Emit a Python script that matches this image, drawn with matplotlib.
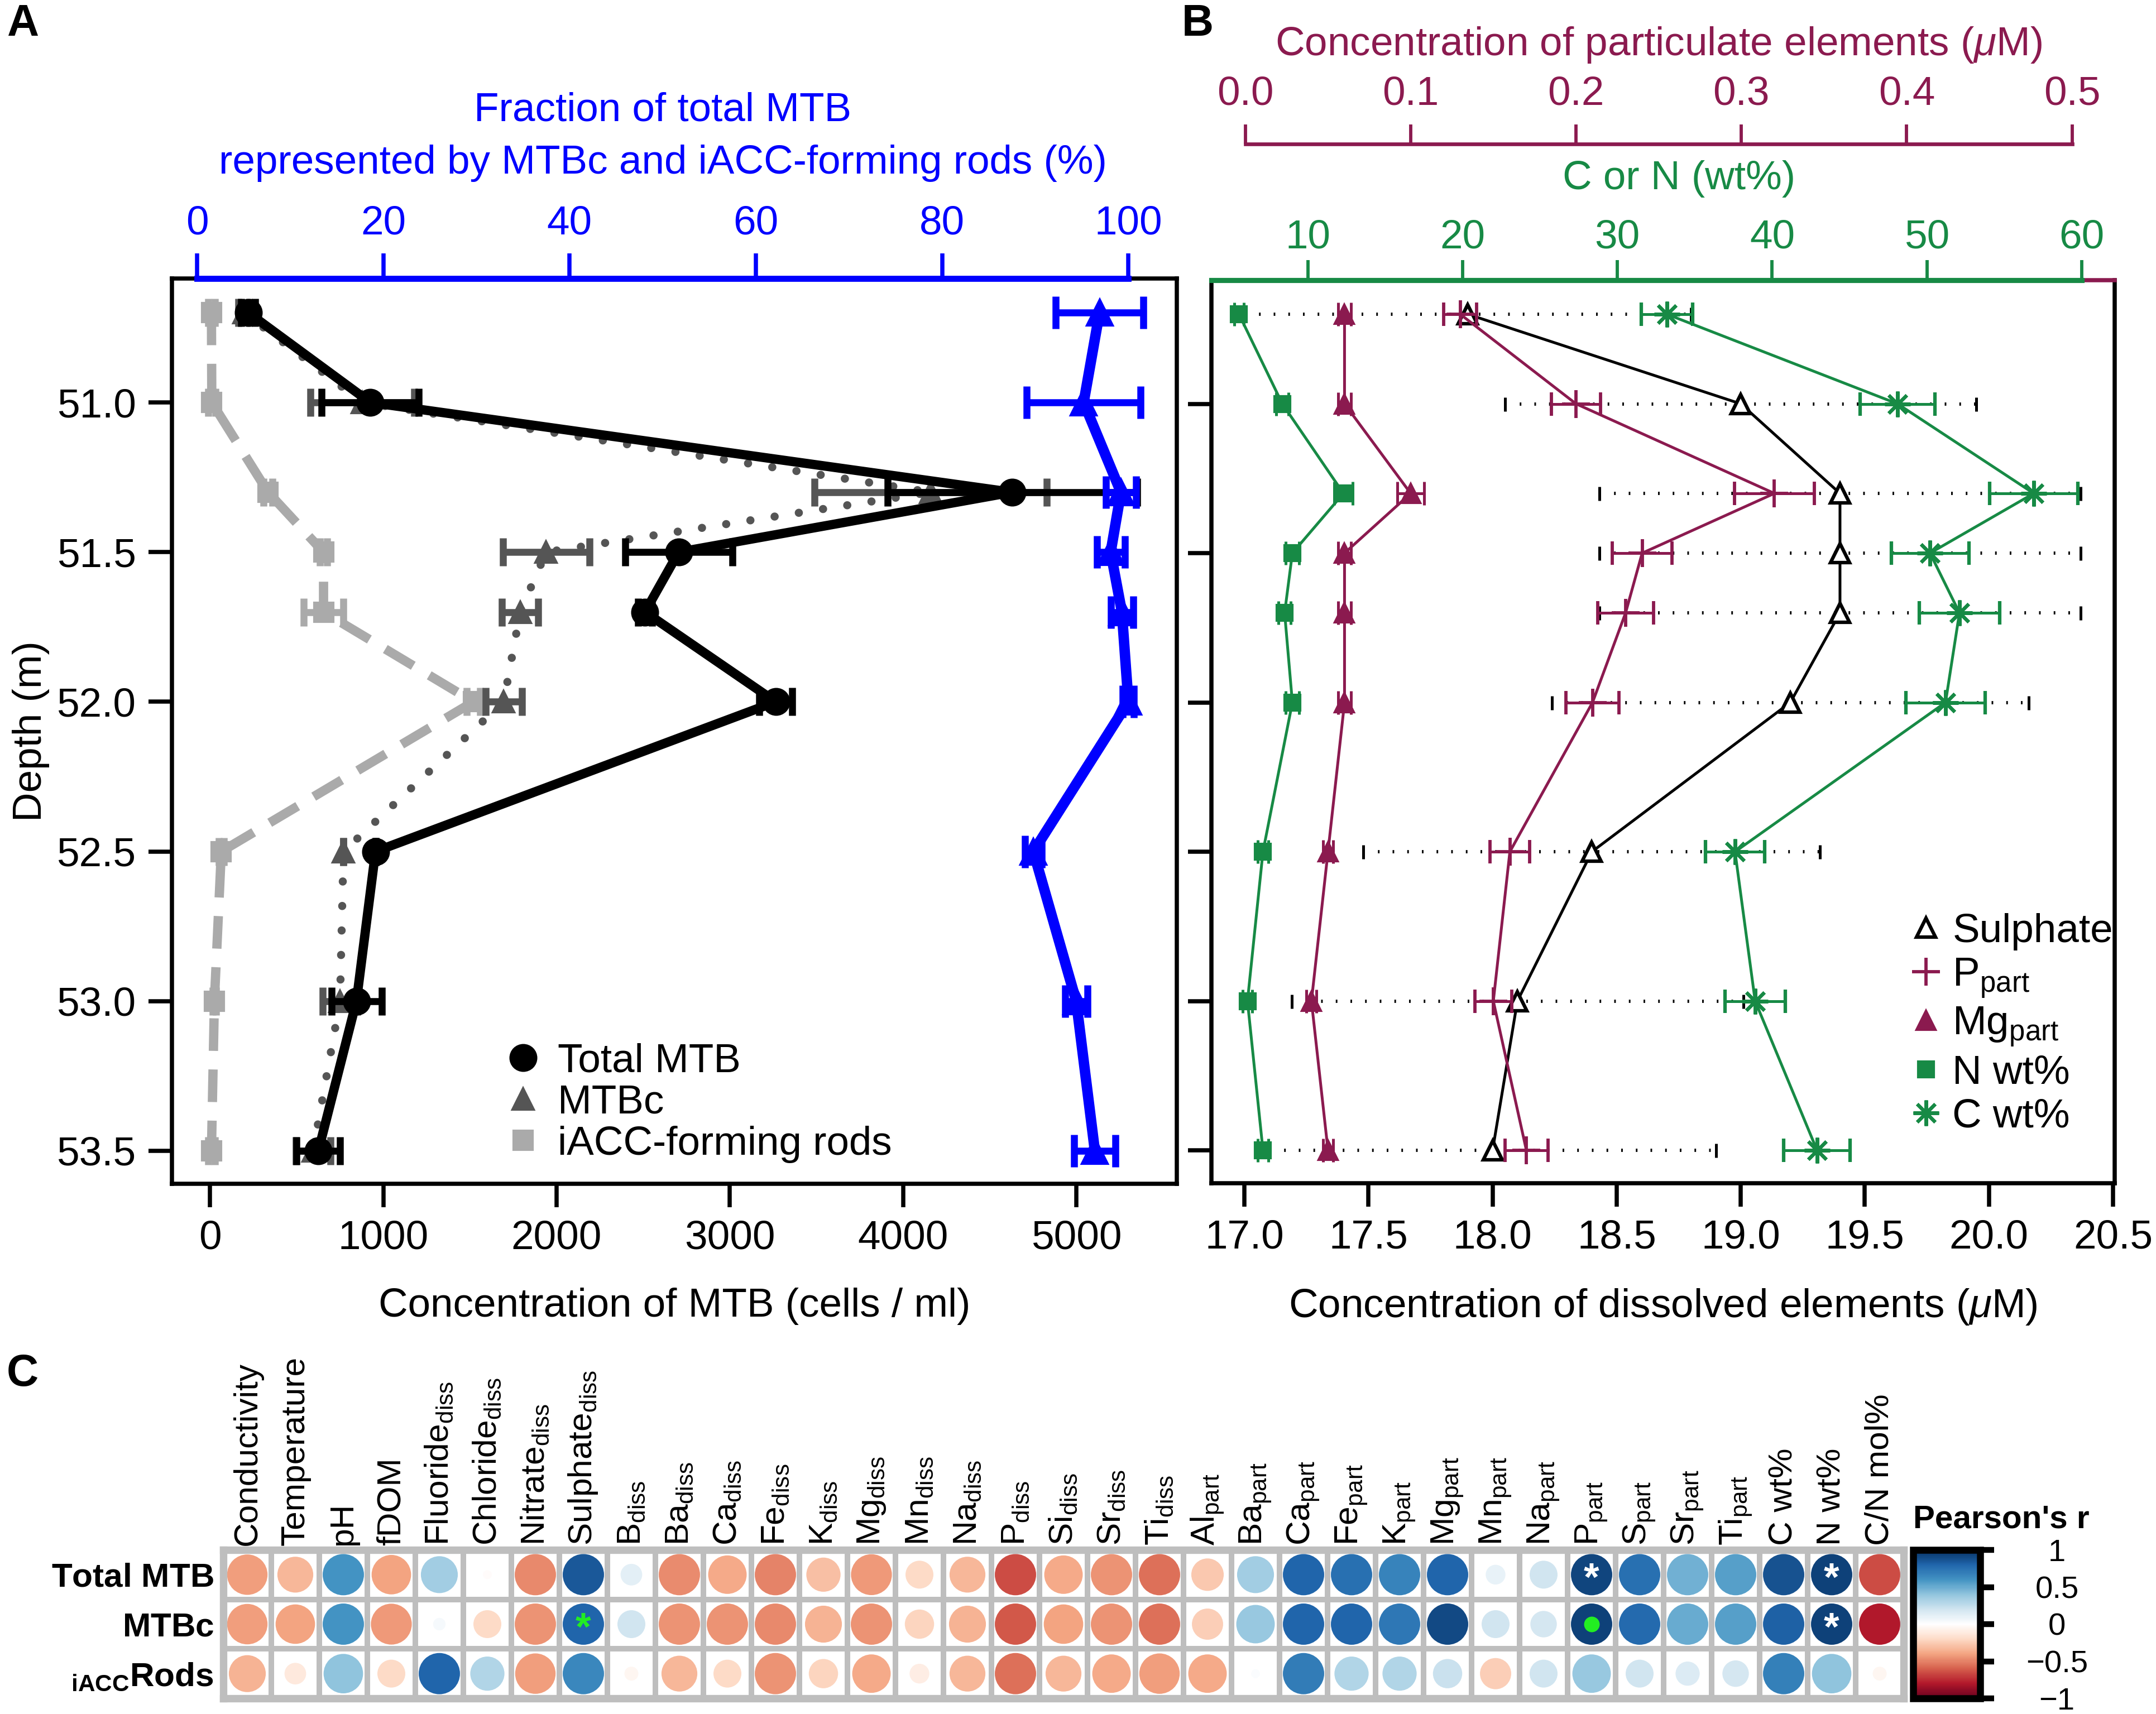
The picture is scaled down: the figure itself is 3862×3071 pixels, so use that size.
import matplotlib
matplotlib.use("Agg")
import matplotlib.pyplot as plt
import numpy as np
from matplotlib.colors import LinearSegmentedColormap
from matplotlib.lines import Line2D

plt.rcParams['font.family'] = ['Liberation Sans', 'DejaVu Sans']
plt.rcParams['mathtext.fontset'] = 'custom'
plt.rcParams['mathtext.rm'] = 'Liberation Sans'
plt.rcParams['mathtext.it'] = 'Liberation Sans:italic'
plt.rcParams['mathtext.bf'] = 'Liberation Sans:bold'

# sampled depths (m)
depth = [50.7, 51.0, 51.3, 51.5, 51.7, 52.0, 52.5, 53.0, 53.5]

# panel A: MTB concentrations (cells / ml)
total_mtb = [220, 925, 4630, 2705, 2510, 3265, 955, 845, 625]
total_mtb_err = [40, 280, 720, 310, 40, 95, 0, 145, 125]
mtbc = [195, 880, 4160, 1940, 1790, 1695, 770, 750, 595]
mtbc_err = [30, 300, 670, 250, 105, 105, 0, 100, 100]
iacc_rods = [8, 10, 335, 655, 655, 1520, 65, 25, 8]
iacc_err = [20, 20, 25, 20, 115, 40, 15, 10, 20]
# fraction of total MTB represented by MTBc and iACC rods (%)
frac_pct = [96.9, 95.2, 99.2, 98.1, 99.3, 100.0, 89.8, 94.4, 96.4]
frac_err = [4.7, 6.1, 1.6, 1.5, 1.2, 0.6, 0.9, 1.2, 2.2]

# panel B: dissolved sulphate (uM), particulate P and Mg (uM), C and N (wt%)
sulphate = [17.9, 19.0, 19.4, 19.4, 19.4, 19.2, 18.4, 18.1, 18.0]
sulphate_err = [0.90, 0.95, 0.97, 0.97, 0.97, 0.96, 0.92, 0.91, 0.90]
p_part = [0.13, 0.20, 0.32, 0.24, 0.23, 0.21, 0.16, 0.15, 0.17]
p_part_err = [0.010, 0.015, 0.024, 0.018, 0.017, 0.016, 0.012, 0.011, 0.013]
mg_part = [0.06, 0.06, 0.10, 0.06, 0.06, 0.06, 0.05, 0.04, 0.05]
mg_part_err = [0.004, 0.004, 0.008, 0.004, 0.004, 0.004, 0.003, 0.003, 0.003]
n_wt = [5.55, 8.35, 12.3, 9.0, 8.5, 9.0, 7.1, 6.1, 7.1]
n_wt_err = [0.3, 0.4, 0.6, 0.45, 0.4, 0.45, 0.35, 0.3, 0.35]
c_wt = [33.2, 48.1, 56.9, 50.2, 52.1, 51.2, 37.6, 38.9, 42.9]
c_wt_err = [1.65, 2.4, 2.85, 2.5, 2.6, 2.55, 1.9, 1.95, 2.15]

# panel C: Pearson correlations
corr_vars = ['Conductivity', 'Temperature', 'pH', 'fDOM',
             'Fluoride$_{\\mathrm{diss}}$', 'Chloride$_{\\mathrm{diss}}$',
             'Nitrate$_{\\mathrm{diss}}$', 'Sulphate$_{\\mathrm{diss}}$',
             'B$_{\\mathrm{diss}}$', 'Ba$_{\\mathrm{diss}}$', 'Ca$_{\\mathrm{diss}}$',
             'Fe$_{\\mathrm{diss}}$', 'K$_{\\mathrm{diss}}$', 'Mg$_{\\mathrm{diss}}$',
             'Mn$_{\\mathrm{diss}}$', 'Na$_{\\mathrm{diss}}$', 'P$_{\\mathrm{diss}}$',
             'Si$_{\\mathrm{diss}}$', 'Sr$_{\\mathrm{diss}}$', 'Ti$_{\\mathrm{diss}}$',
             'Al$_{\\mathrm{part}}$', 'Ba$_{\\mathrm{part}}$', 'Ca$_{\\mathrm{part}}$',
             'Fe$_{\\mathrm{part}}$', 'K$_{\\mathrm{part}}$', 'Mg$_{\\mathrm{part}}$',
             'Mn$_{\\mathrm{part}}$', 'Na$_{\\mathrm{part}}$', 'P$_{\\mathrm{part}}$',
             'S$_{\\mathrm{part}}$', 'Sr$_{\\mathrm{part}}$', 'Ti$_{\\mathrm{part}}$',
             'C wt%', 'N wt%', 'C/N mol%']
corr_groups = ['$\\mathbf{Total\\ MTB}$', '$\\mathbf{MTBc}$',
               '${}_{\\mathbf{iACC}}\\mathbf{Rods}$']
total_r = [-0.42, -0.33, 0.60, -0.40, 0.35, -0.02, -0.48, 0.85, 0.12, -0.47,
           -0.38, -0.50, -0.30, -0.43, -0.20, -0.33, -0.65, -0.38, -0.45, -0.55,
           -0.27, 0.35, 0.80, 0.75, 0.67, 0.80, 0.10, 0.20, 0.92, 0.75,
           0.48, 0.55, 0.87, 0.93, -0.65]
mtbc_r = [-0.42, -0.40, 0.60, -0.43, 0.04, -0.20, -0.45, 0.80, 0.20, -0.45,
          -0.45, -0.48, -0.35, -0.45, -0.22, -0.35, -0.62, -0.40, -0.45, -0.55,
          -0.25, 0.38, 0.80, 0.80, 0.72, 0.90, 0.20, 0.18, 0.93, 0.78,
          0.50, 0.55, 0.82, 0.93, -0.80]
rods_r = [-0.35, -0.12, 0.40, -0.20, 0.80, 0.30, -0.42, 0.65, -0.05, -0.33,
          -0.20, -0.45, -0.22, -0.38, -0.10, -0.33, -0.55, -0.33, -0.38, -0.42,
          -0.38, 0.02, 0.70, 0.30, 0.30, 0.22, -0.25, 0.20, 0.38, 0.20,
          0.15, 0.18, 0.68, 0.40, -0.05]
# significance marks (row, column)
sig_white_star = [(0, 28), (0, 33), (1, 33)]
sig_green_star = [(1, 7)]
sig_green_dot = [(1, 28)]

BLUE = '#0000FF'
PURPLE = '#8B1A4F'
GREEN = '#178A45'
DARK = '#555555'
LIGHT = '#AAAAAA'
FS = 17.5

W, H = 3862, 3071
fig = plt.figure(figsize=(W / 300, H / 300), dpi=300)


def box(x0, y0, x1, y1):
    return [x0 / W, 1 - y1 / H, (x1 - x0) / W, (y1 - y0) / H]


def style_box(ax):
    for s in ax.spines.values():
        s.set_linewidth(1.8)
    ax.tick_params(labelsize=FS, length=10, width=1.8, pad=5.5)


# ---------------- panel A ----------------
axA = fig.add_axes(box(308, 499, 2108, 2121))
style_box(axA)
axA.set_xlim(-220, 5580)
axA.set_ylim(53.61, 50.586)
axA.set_xticks([0, 1000, 2000, 3000, 4000, 5000])
axA.set_yticks([51.0, 51.5, 52.0, 52.5, 53.0, 53.5])
axA.set_yticklabels(['%.1f' % d for d in [51.0, 51.5, 52.0, 52.5, 53.0, 53.5]])
axA.set_xlabel('Concentration of MTB (cells / ml)', fontsize=FS, labelpad=13)
axA.set_ylabel('Depth (m)', fontsize=FS, labelpad=3)

axA.errorbar(iacc_rods, depth, xerr=iacc_err, color=LIGHT, marker='s', ms=8,
             lw=4, ls=(0, (3.5, 2)), elinewidth=3, capsize=6, capthick=3, zorder=2)
axA.errorbar(mtbc, depth, xerr=mtbc_err, color=DARK, marker='^', ms=9,
             lw=3.5, ls=(0, (0.01, 3)), dash_capstyle='round', elinewidth=3,
             capsize=6, capthick=3, zorder=3)
axA.errorbar(total_mtb, depth, xerr=total_mtb_err, color='black', marker='o', ms=11,
             lw=4, elinewidth=3, capsize=6, capthick=3, zorder=4)

leg_h = [Line2D([], [], ls='none', marker='o', ms=11, color='black'),
         Line2D([], [], ls='none', marker='^', ms=9, color=DARK),
         Line2D([], [], ls='none', marker='s', ms=8, color=LIGHT)]
axA.legend(leg_h, ['Total MTB', 'MTBc', 'iACC-forming rods'], loc='lower left',
           bbox_to_anchor=(0.329, 0.023), frameon=False, fontsize=FS, borderpad=0,
           borderaxespad=0, handlelength=1.0, handletextpad=0.35, labelspacing=0.1)

axA2 = axA.twiny()
axA2.set_xlim(-2.7, 105.2)
axA2.set_xticks([0, 20, 40, 60, 80, 100])
for s in ['bottom', 'left', 'right']:
    axA2.spines[s].set_visible(False)
axA2.spines['top'].set_color(BLUE)
axA2.spines['top'].set_linewidth(2.6)
axA2.spines['top'].set_bounds(0, 100)
axA2.tick_params(axis='x', colors=BLUE, labelsize=FS, length=10.8, width=1.8, pad=4.6)
axA2.errorbar(frac_pct, depth, xerr=frac_err, color=BLUE, marker='^', ms=11,
              lw=4.5, elinewidth=3, capsize=7, capthick=3, zorder=4)
cxA = (308 + 1800 * (2.7 + 50) / 107.9) / W
fig.text(cxA, 1 - 198 / H, 'Fraction of total MTB', color=BLUE, fontsize=FS,
         ha='center', va='center')
fig.text(cxA, 1 - 292 / H, 'represented by MTBc and iACC-forming rods (%)',
         color=BLUE, fontsize=FS, ha='center', va='center')

# ---------------- panel B ----------------
axB = fig.add_axes(box(2170, 502, 3788, 2120))
style_box(axB)
axB.spines['top'].set_color(PURPLE)
axB.set_xlim(16.867, 20.507)
axB.set_ylim(53.61, 50.586)
xt = [17.0, 17.5, 18.0, 18.5, 19.0, 19.5, 20.0, 20.5]
axB.set_xticks(xt)
axB.set_xticklabels(['%.1f' % v for v in xt])
axB.set_yticks([51.0, 51.5, 52.0, 52.5, 53.0, 53.5])
axB.set_yticklabels([])
axB.set_xlabel('Concentration of dissolved elements ($\\mathit{\\mu}$M)',
               fontsize=FS, labelpad=13)

eb = axB.errorbar(sulphate, depth, xerr=sulphate_err, color='black', ls='none',
                  elinewidth=1.4, capsize=3, capthick=1.2, zorder=1)
eb[2][0].set_linestyle((0, (0.5, 4)))
axB.plot(sulphate, depth, color='black', lw=1.2, marker='^', ms=8,
         mfc='white', mec='black', mew=1.5, zorder=5)

axG = axB.twiny()
axG.set_xlim(3.77, 62.13)
axG.set_xticks([10, 20, 30, 40, 50, 60])
for s in ['bottom', 'left', 'right']:
    axG.spines[s].set_visible(False)
axG.spines['top'].set_color(GREEN)
axG.spines['top'].set_linewidth(2.2)
axG.spines['top'].set_bounds(3.77, 60)
axG.tick_params(axis='x', colors=GREEN, labelsize=FS, length=8.6, width=1.4, pad=1.7)
axG.errorbar(n_wt, depth, xerr=n_wt_err, color=GREEN, marker='s', ms=6.5,
             lw=1.2, elinewidth=1.2, capsize=5, capthick=1.2, zorder=3)
axG.errorbar(c_wt, depth, xerr=c_wt_err, color=GREEN, marker=(8, 2, 0), ms=11,
             mew=1.5, lw=1.2, elinewidth=1.2, capsize=5, capthick=1.2, zorder=3)

axP = axB.twiny()
axP.set_xlim(-0.0205, 0.5258)
axP.set_xticks([0.0, 0.1, 0.2, 0.3, 0.4, 0.5])
axP.set_xticklabels(['0.0', '0.1', '0.2', '0.3', '0.4', '0.5'])
for s in ['bottom', 'left', 'right']:
    axP.spines[s].set_visible(False)
axP.spines['top'].set_position(('outward', 58.6))
axP.spines['top'].set_color(PURPLE)
axP.spines['top'].set_linewidth(1.6)
axP.spines['top'].set_bounds(0, 0.5)
axP.tick_params(axis='x', colors=PURPLE, labelsize=FS, length=8.4, width=1.4, pad=4.8)
axP.errorbar(mg_part, depth, xerr=mg_part_err, color=PURPLE, marker='^', ms=8,
             lw=1.2, elinewidth=1.2, capsize=5, capthick=1.2, zorder=3)
axP.errorbar(p_part, depth, xerr=p_part_err, color=PURPLE, marker='+', ms=12,
             mew=1.4, lw=1.2, elinewidth=1.2, capsize=5, capthick=1.2, zorder=3)

cxB = (2170 + 1618 * 0.4952) / W
fig.text(cxB, 1 - 80 / H, 'Concentration of particulate elements ($\\mathit{\\mu}$M)',
         color=PURPLE, fontsize=FS, ha='center', va='center')
fig.text(3008 / W, 1 - 320 / H, 'C or N (wt%)', color=GREEN, fontsize=FS,
         ha='center', va='center')

leg_hB = [Line2D([], [], ls='none', marker='^', ms=8, mfc='white', mec='black', mew=1.5),
          Line2D([], [], ls='none', marker='+', ms=12, mew=1.4, color=PURPLE),
          Line2D([], [], ls='none', marker='^', ms=8, color=PURPLE),
          Line2D([], [], ls='none', marker='s', ms=6.5, color=GREEN),
          Line2D([], [], ls='none', marker=(8, 2, 0), ms=11, mew=1.5, color=GREEN)]
axB.legend(leg_hB, ['Sulphate', 'P$_{\\mathrm{part}}$', 'Mg$_{\\mathrm{part}}$',
                    'N wt%', 'C wt%'], loc='lower left', bbox_to_anchor=(0.773, 0.053),
           frameon=False, fontsize=FS, borderpad=0, borderaxespad=0,
           handlelength=0.8, handletextpad=0.25, labelspacing=0.15)

# ---------------- panel C ----------------
axC = fig.add_axes(box(400, 2777, 3410, 3043))
corr = np.array([total_r, mtbc_r, rods_r])
ncol = len(corr_vars)
axC.set_xlim(-0.5, ncol - 0.5)
axC.set_ylim(len(corr_groups) - 0.5, -0.5)
for i in range(ncol + 1):
    axC.axvline(i - 0.5, color='#BEBEBE', lw=2.4, zorder=1)
for j in range(len(corr_groups) + 1):
    axC.axhline(j - 0.5, color='#BEBEBE', lw=2.4, zorder=1)
for s in axC.spines.values():
    s.set_color('#BEBEBE')
    s.set_linewidth(3.2)

cmap = LinearSegmentedColormap.from_list('corrRdBu', [
    '#67001F', '#B2182B', '#D6604D', '#F4A582', '#FDDBC7', '#FFFFFF',
    '#D1E5F0', '#92C5DE', '#4393C3', '#2166AC', '#053061'])
cell_pt = axC.get_position().width * fig.get_figwidth() * 72 / ncol
xx, yy = np.meshgrid(np.arange(ncol), np.arange(len(corr_groups)))
diam = np.minimum(1.3 * np.sqrt(np.abs(corr)), 0.86) * cell_pt
axC.scatter(xx.ravel(), yy.ravel(), s=(diam ** 2).ravel(), c=corr.ravel(),
            cmap=cmap, vmin=-1, vmax=1, linewidths=0, zorder=2)
for r, c in sig_white_star:
    axC.text(c, r + 0.12, '*', color='white', fontsize=17, fontweight='bold',
             ha='center', va='center', zorder=3)
for r, c in sig_green_star:
    axC.text(c, r + 0.12, '*', color='#22EE22', fontsize=17, fontweight='bold',
             ha='center', va='center', zorder=3)
for r, c in sig_green_dot:
    axC.scatter([c], [r], s=45, color='#22EE22', linewidths=0, zorder=3)

axC.set_xticks(range(ncol))
axC.set_xticklabels(corr_vars, rotation=90)
axC.set_yticks(range(len(corr_groups)))
axC.set_yticklabels(corr_groups)
axC.tick_params(axis='x', top=True, bottom=False, labeltop=True, labelbottom=False,
                length=0, pad=2, labelsize=14.5)
axC.tick_params(axis='y', length=0, pad=4, labelsize=14.5)

cax = fig.add_axes(box(3427, 2777, 3547, 3043))
sm = plt.cm.ScalarMappable(cmap=cmap, norm=plt.Normalize(-1, 1))
cb = fig.colorbar(sm, cax=cax, ticks=[-1, -0.5, 0, 0.5, 1])
cb.ax.set_yticklabels(['\u22121', '\u22120.5', '0', '0.5', '1'])
cb.outline.set_linewidth(3)
cb.ax.tick_params(length=6, width=2.5, labelsize=13.5, pad=27)
for t in cb.ax.get_yticklabels():
    t.set_ha('center')
fig.text(3427 / W, 1 - 2722 / H, "Pearson's r", fontsize=14, fontweight='bold',
         ha='left', va='center')

# panel letters
fig.text(41 / W, 1 - 44 / H, 'A', fontsize=19, fontweight='bold', ha='center', va='center')
fig.text(2145 / W, 1 - 44 / H, 'B', fontsize=19, fontweight='bold', ha='center', va='center')
fig.text(40 / W, 1 - 2462 / H, 'C', fontsize=19, fontweight='bold', ha='center', va='center')

fig.savefig('out.png', dpi=300)
